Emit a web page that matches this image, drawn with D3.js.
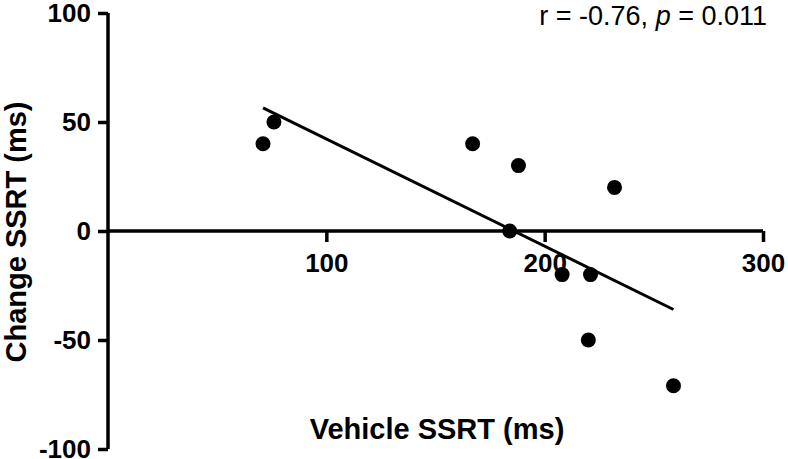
<!DOCTYPE html>
<html lang="en">
<head>
<meta charset="UTF-8">
<title>Change vs Vehicle SSRT</title>
<script src="https://d3js.org/d3.v7.min.js"></script>
<style>
    body { margin: 0; background: #fff; }
    svg text { font-family: "Liberation Sans", Arial, sans-serif; fill: #000; }
    .tick-label { font-size: 26px; font-weight: bold; }
    .axis-title { font-size: 29px; font-weight: bold; }
    .stat { font-size: 27px; }
</style>
</head>
<body>
<svg width="788" height="459"></svg>
<script>
    // data
    const vehicleSSRT = [71, 76, 167, 188, 232, 184, 208, 221, 220, 259];
    const changeSSRT  = [40, 50, 40, 30, 20, 0, -20, -20, -50, -71];
    const fitX = [71, 259];
    const fitY = [56.5, -36];
    const xTicks = [100, 200, 300];
    const yTicks = [-100, -50, 0, 50, 100];

    const svg = d3.select("svg");

    const x = d3.scaleLinear().domain([0, 300]).range([108, 763]);
    const y = d3.scaleLinear().domain([-100, 100]).range([449, 13]);

    // y axis
    const yAxis = svg.append("g")
        .attr("transform", `translate(${x(0)},0)`)
        .call(d3.axisLeft(y).tickValues(yTicks).tickFormat(d => String(d)).tickSize(10).tickPadding(7));
    yAxis.select(".domain").attr("stroke-width", 3.5).attr("d", `M0,${y(-100)}V${y(100)}`);
    yAxis.selectAll(".tick line").attr("stroke-width", 3.5);
    yAxis.selectAll(".tick text").attr("class", "tick-label").attr("font-size", null).attr("font-family", null).attr("dy", "0.34em");

    // x axis sits at y = 0
    const xAxis = svg.append("g")
        .attr("transform", `translate(0,${y(0)})`)
        .call(d3.axisBottom(x).tickValues(xTicks).tickFormat(d => String(d)).tickSize(11).tickPadding(12));
    xAxis.select(".domain").attr("stroke-width", 3.5).attr("d", `M${x(0)},0H${x(300)}`);
    xAxis.selectAll(".tick line").attr("stroke-width", 3.5);
    xAxis.selectAll(".tick text").attr("class", "tick-label").attr("font-size", null).attr("font-family", null);

    // regression line
    svg.append("line")
        .attr("x1", x(fitX[0])).attr("y1", y(fitY[0]))
        .attr("x2", x(fitX[1])).attr("y2", y(fitY[1]))
        .attr("stroke", "#000").attr("stroke-width", 3);

    // points
    svg.selectAll(".dot")
        .data(vehicleSSRT.map((v, i) => [v, changeSSRT[i]]))
        .enter().append("circle")
        .attr("class", "dot")
        .attr("cx", d => x(d[0]))
        .attr("cy", d => y(d[1]))
        .attr("r", 7.5)
        .attr("fill", "#000");

    // titles
    svg.append("text")
        .attr("class", "axis-title")
        .attr("x", 437).attr("y", 439)
        .attr("text-anchor", "middle")
        .text("Vehicle SSRT (ms)");

    svg.append("text")
        .attr("class", "axis-title")
        .attr("font-size", "28px")
        .attr("transform", "translate(26,232) rotate(-90)")
        .attr("text-anchor", "middle")
        .text("Change SSRT (ms)");

    const stat = svg.append("text")
        .attr("class", "stat")
        .attr("x", 767).attr("y", 25)
        .attr("text-anchor", "end");
    stat.append("tspan").text("r = -0.76, ");
    stat.append("tspan").attr("font-style", "italic").text("p");
    stat.append("tspan").text(" = 0.011");
</script>
</body>
</html>
